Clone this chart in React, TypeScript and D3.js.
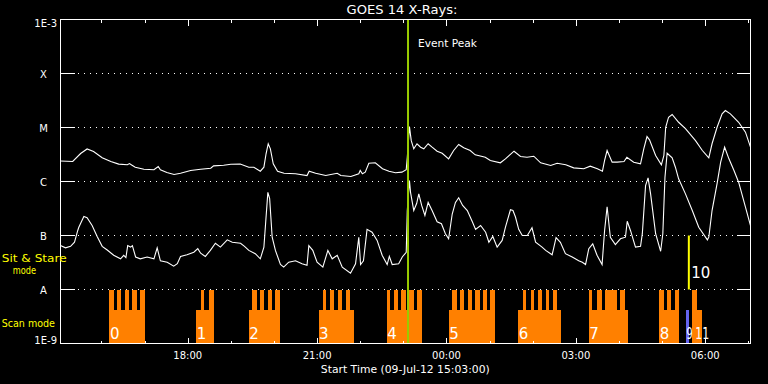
import React from "react";
import * as d3 from "d3";

// ---- data ----
const START = new Date(2012, 6, 9, 15, 3, 0);
const END = new Date(2012, 6, 10, 7, 3, 0);
const yLevels = [1e-9, 1e-8, 1e-7, 1e-6, 1e-5, 1e-4, 1e-3];
const yLabels = ["1E-9", "A", "B", "C", "M", "X", "1E-3"];
const eventPeakMin = 483.5;

// [minutes since 15:03, flux W/m^2]
const longChannel: [number, number][] = [[0,2.4e-6],[17,2.35e-6],[28,3.3e-6],[37,4.0e-6],[46,3.6e-6],[58,2.75e-6],[70,2.35e-6],[81,2.1e-6],[93,2.04e-6],[96,2.15e-6],[99,2.02e-6],[104,1.84e-6],[116,1.69e-6],[130,1.65e-6],[136,1.9e-6],[139,1.65e-6],[148,1.47e-6],[158,1.35e-6],[167,1.42e-6],[181,1.6e-6],[195,1.69e-6],[209,1.76e-6],[213,1.95e-6],[227,2.0e-6],[237,2.09e-6],[250,2.11e-6],[262,1.84e-6],[269,1.84e-6],[278,1.55e-6],[283,1.84e-6],[286,3.26e-6],[289,5.0e-6],[292,4.03e-6],[296,2.13e-6],[302,1.55e-6],[311,1.42e-6],[327,1.39e-6],[343,1.29e-6],[346,1.55e-6],[355,1.42e-6],[369,1.29e-6],[385,1.42e-6],[390,1.29e-6],[404,1.24e-6],[415,1.39e-6],[417,1.6e-6],[420,1.39e-6],[424,1.49e-6],[429,2.18e-6],[438,2.22e-6],[448,1.72e-6],[457,1.55e-6],[466,1.45e-6],[475,1.49e-6],[481,1.65e-6],[482.5,2.82e-6],[485.5,1.04e-5],[488,5.7e-6],[491.5,4.03e-6],[496,5.0e-6],[501,4.32e-6],[505.5,4.03e-6],[511.5,5.0e-6],[517,4.32e-6],[524,3.64e-6],[531,3.34e-6],[540,2.63e-6],[547,3.75e-6],[554,4.84e-6],[561,4.21e-6],[570,3.75e-6],[577,3.12e-6],[591,2.82e-6],[598,2.45e-6],[612,2.22e-6],[619,2.63e-6],[631,3.64e-6],[640,2.91e-6],[649,2.82e-6],[658.5,2.94e-6],[668,2.22e-6],[682,1.98e-6],[691,2.18e-6],[703,2.04e-6],[714,1.79e-6],[728,1.72e-6],[737,1.92e-6],[747,1.72e-6],[754,1.55e-6],[757,2.45e-6],[760.5,3.75e-6],[767.5,2.28e-6],[774.5,2.28e-6],[784,2.35e-6],[788,2.82e-6],[797.5,2.28e-6],[807,2.13e-6],[811.5,4.03e-6],[816,6.8e-6],[819.5,5.9e-6],[828,3.03e-6],[836,2.04e-6],[839.5,3.03e-6],[842,1.01e-5],[846,1.55e-5],[851,1.74e-5],[860,1.25e-5],[869.5,9.5e-6],[883.5,5.7e-6],[893,3.75e-6],[902,2.75e-6],[906.5,5.0e-6],[913.5,1.01e-5],[920.5,1.79e-5],[925,2.06e-5],[932,1.79e-5],[943.5,1.25e-5],[953,8.2e-6],[960,4.32e-6]];

const shortChannel: [number, number][] = [[0,6.5e-8],[7,5.9e-8],[14,6.3e-8],[19.5,7.5e-8],[24,1.24e-7],[25.5,1.42e-7],[32.5,2.25e-7],[37,2.13e-7],[44,1.53e-7],[51,9.6e-8],[58,6.3e-8],[65,5.4e-8],[74,4.3e-8],[83.5,3.7e-8],[88,4.3e-8],[91,3.9e-8],[93.5,6.5e-8],[97.5,6.1e-8],[100,6.5e-8],[104.5,4.0e-8],[111,3.7e-8],[120.5,4.0e-8],[130,3.7e-8],[134.5,5.9e-8],[139,3.4e-8],[148.5,3.2e-8],[157.5,2.7e-8],[162.5,3.0e-8],[167,4.1e-8],[176,4.4e-8],[185.5,4.9e-8],[191,5.7e-8],[195,4.7e-8],[201.5,4.1e-8],[208.5,5.3e-8],[215.5,7.2e-8],[222.5,6.1e-8],[232,8.3e-8],[239,7.5e-8],[250.5,7.2e-8],[256,6.3e-8],[262,5.3e-8],[271,4.6e-8],[278,3.7e-8],[283,6.1e-8],[286,2.2e-7],[288.5,6.3e-7],[291,4.8e-7],[294.5,9.3e-8],[299,5.3e-8],[306,2.9e-8],[310.5,2.6e-8],[317.5,3.2e-8],[327,3.4e-8],[336,3.0e-8],[343,2.8e-8],[345.5,6.5e-8],[351,5.3e-8],[357,3.2e-8],[365,2.6e-8],[372,5.3e-8],[378,3.7e-8],[385,4.3e-8],[392,2.6e-8],[403.5,2.0e-8],[410.5,3.0e-8],[415,9.3e-8],[417.5,2.9e-8],[421.5,3.4e-8],[426.5,1.3e-7],[433.5,1.15e-7],[440.5,8.1e-8],[447.5,4.3e-8],[454.5,2.9e-8],[457.5,4.1e-8],[461.5,2.9e-8],[470.5,3.0e-8],[475.5,4.0e-8],[481,4.9e-8],[482.5,2.9e-7],[485.5,1.04e-6],[487,6.3e-7],[491.5,2.9e-7],[495.5,3.9e-7],[498.5,5.9e-7],[502.5,3.6e-7],[507,2.35e-7],[511.5,4.1e-7],[517,2.9e-7],[524,1.8e-7],[530,1.65e-7],[535.5,1.08e-7],[540,8.7e-8],[545,2.5e-7],[549.5,4.1e-7],[554,5.0e-7],[559.5,3.6e-7],[566,2.9e-7],[573,1.8e-7],[577.5,1.3e-7],[584.5,1.53e-7],[591.5,1.15e-7],[596,7.5e-8],[601.5,9.6e-8],[607.5,6.1e-8],[614.5,8.1e-8],[619,1.42e-7],[626,3.0e-7],[629.5,2.9e-7],[633,2.2e-7],[637.5,1.3e-7],[642.5,1.0e-7],[649.5,1.0e-7],[656,1.39e-7],[661,7.5e-8],[670,6.1e-8],[675,5.3e-8],[684,4.4e-8],[689.5,9.1e-8],[695.5,7.5e-8],[702.5,4.6e-8],[712,4.0e-8],[721,3.4e-8],[726,3.2e-8],[730.5,2.9e-8],[735,5.7e-8],[740.5,7.0e-8],[746.5,4.3e-8],[753.5,2.9e-8],[757,1.24e-7],[760.5,3.4e-7],[765,9.3e-8],[772,6.8e-8],[779,8.7e-8],[786,9.3e-8],[788.5,1.84e-7],[793,1.24e-7],[800,6.1e-8],[807,6.3e-8],[809.5,1.08e-7],[814,8.4e-7],[817.5,1.17e-6],[821,5.9e-7],[828,1.08e-7],[835,5.1e-8],[838,1.08e-7],[841,1.2e-6],[844,3.34e-6],[851,2.75e-6],[855.5,1.84e-6],[860,1.12e-6],[869.5,5.9e-7],[879,2.9e-7],[888,1.42e-7],[900,8.3e-8],[902,9.3e-8],[906.5,2.9e-7],[913.5,9.1e-7],[918.5,2.28e-6],[924,4.32e-6],[930,2.63e-6],[937,1.6e-6],[943.5,9.7e-7],[953,3.34e-7],[960,1.53e-7]];

// scan-mode rasters: [start, end] minutes since 15:03
const scanLabels = ["0", "1", "2", "3", "4", "5", "6", "7", "8", "11"];
const scanRanges: [number, number][] = [[68,117],[189,213],[262,305],[359,408],[454,503],[540,605],[637,697],[735,790],[833,861],[879,892]];
const scanTeeth: [number, number][][] = [
  [[68,74],[79,84],[90,95],[100,106],[110,117]],
  [[195,200],[206,213]],
  [[267,273],[278,283],[288,294],[299,305]],
  [[365,370],[375,381],[386,391],[397,403]],
  [[454,459],[464,470],[474,480],[485,492],[496,503]],
  [[545,551],[556,562],[567,572],[577,583],[588,593],[598,605]],
  [[643,648],[654,659],[664,670],[675,680],[685,691]],
  [[735,740],[746,753],[757,774],[778,785]],
  [[833,839],[844,850],[855,861]],
  [[879,886]],
];
const partialLabels = ["9"];
const partialRanges: [number, number][] = [[870, 874]];
const sitStareLabels = ["10"];
const sitStareTimes = [874.2];
const scanLevel = 4.2e-9;
const toothLevel = 1e-8;
const sitStareTop = 1e-7;

const W = 768, H = 384;
const tm = (m: number) => new Date(START.getTime() + m * 60000);

export default function App() {
  const x = d3.scaleTime().domain([START, END]).range([60.5, 750.5]);
  const y = d3.scaleLog().domain([1e-9, 1e-3]).range([343.5, 19.5]);
  const line = d3.line<[number, number]>().x(d => x(tm(d[0]))).y(d => y(d[1]));
  const hours = d3.timeHour.range(START, END);
  const fmt = d3.timeFormat("%H:%M");
  const font = "DejaVu Sans";
  const orange = "#ff8000";
  const x0 = x(START), x1 = x(END), yTop = y(1e-3), yBot = y(1e-9);

  return (
    <svg width={W} height={H} style={{ position: "fixed", left: 0, top: 0, background: "#000" }} fontFamily={font}>
      <rect x={0} y={0} width={W} height={H} fill="#000" />
      {/* scan blocks */}
      <g shapeRendering="crispEdges" fill={orange}>
        {scanRanges.map((r, i) => (
          <rect key={"b" + i} x={x(tm(r[0]))} y={y(scanLevel)} width={x(tm(r[1])) - x(tm(r[0]))} height={yBot - y(scanLevel)} />
        ))}
        {scanTeeth.map((tt, i) => tt.map((r, j) => (
          <rect key={"t" + i + "_" + j} x={x(tm(r[0]))} y={y(toothLevel)} width={x(tm(r[1])) - x(tm(r[0]))} height={y(scanLevel) - y(toothLevel) + 1} />
        )))}
      </g>
      <g shapeRendering="crispEdges" fill="#6464f0">
        {partialRanges.map((r, i) => (
          <rect key={"p" + i} x={x(tm(r[0]))} y={y(scanLevel)} width={x(tm(r[1])) - x(tm(r[0]))} height={yBot - y(scanLevel)} />
        ))}
      </g>
      {sitStareTimes.map((m, i) => (
        <line key={"s" + i} x1={x(tm(m))} x2={x(tm(m))} y1={y(sitStareTop)} y2={y(toothLevel)} stroke="#ffff00" strokeWidth={2} />
      ))}
      {/* block labels */}
      <g fill="#fff" fontSize={15}>
        {scanRanges.map((r, i) => {
          const last = i === scanRanges.length - 1;
          return last
            ? <text key={"l" + i} x={x(tm(r[0])) + 3} y={339} textLength={14} lengthAdjust="spacingAndGlyphs">{scanLabels[i]}</text>
            : <text key={"l" + i} x={x(tm(r[0])) + 0.5} y={339}>{scanLabels[i]}</text>;
        })}
        {partialRanges.map((r, i) => (
          <text key={"pl" + i} x={x(tm(r[0])) + 0.5} y={339} textLength={6.5} lengthAdjust="spacingAndGlyphs">{partialLabels[i]}</text>
        ))}
        {sitStareTimes.map((m, i) => (
          <text key={"sl" + i} x={x(tm(m)) + 2.5} y={278}>{sitStareLabels[i]}</text>
        ))}
      </g>
      {/* grid */}
      <g stroke="#fff" strokeWidth={1} shapeRendering="crispEdges">
        {yLevels.slice(1, -1).map((v, i) => (
          <g key={"g" + i}>
            <line x1={x0} x2={x0 + 14} y1={y(v)} y2={y(v)} />
            <line x1={x1 - 14} x2={x1} y1={y(v)} y2={y(v)} />
            <line x1={x0 + 17} x2={x1 - 16} y1={y(v)} y2={y(v)} strokeDasharray="1 5" />
          </g>
        ))}
      </g>
      {/* curves */}
      <path d={line(longChannel) || ""} fill="none" stroke="#fff" strokeWidth={1.1} />
      <path d={line(shortChannel) || ""} fill="none" stroke="#fff" strokeWidth={1.1} />
      {/* event peak */}
      <line x1={x(tm(eventPeakMin))} x2={x(tm(eventPeakMin))} y1={yTop} y2={yBot} stroke="#99cc00" strokeWidth={2} />
      <text x={418} y={46.5} fill="#fff" fontSize={10.5} textLength={59} lengthAdjust="spacingAndGlyphs">Event Peak</text>
      {/* frame */}
      <g stroke="#fff" strokeWidth={1} shapeRendering="crispEdges" fill="none">
        <rect x={x0} y={yTop} width={x1 - x0} height={yBot - yTop} />
        {hours.map((h, i) => {
          const major = h.getHours() % 3 === 0;
          const len = major ? 6 : 3;
          const xx = Math.round(x(h)) + 0.5;
          return (
            <g key={"h" + i}>
              <line x1={xx} x2={xx} y1={yTop} y2={yTop + len} />
              <line x1={xx} x2={xx} y1={yBot} y2={yBot - len} />
            </g>
          );
        })}
      </g>
      {/* x labels */}
      <g fill="#fff" fontSize={10} textAnchor="middle">
        {hours.filter(h => h.getHours() % 3 === 0).map((h, i) => (
          <text key={"xl" + i} x={x(h)} y={358.7}>{fmt(h)}</text>
        ))}
        <text x={405.3} y={372.5} textLength={169} lengthAdjust="spacingAndGlyphs">Start Time (09-Jul-12 15:03:00)</text>
      </g>
      {/* y labels */}
      <g fill="#fff" fontSize={10}>
        {yLevels.map((v, i) => {
          const lab = yLabels[i];
          if (lab.length > 1) {
            const yy = i === 0 ? y(v) : y(v) + 7.5;
            return <text key={"yl" + i} x={57} y={yy} textAnchor="end">{lab}</text>;
          }
          return <text key={"yl" + i} x={43.5} y={y(v) + 4} textAnchor="middle">{lab}</text>;
        })}
      </g>
      <g fill="#ffff00" fontSize={11}>
        <text x={1.7} y={262.3} textLength={65} lengthAdjust="spacingAndGlyphs">Sit &amp; Stare</text>
        <text x={12.7} y={274} textLength={23.3} lengthAdjust="spacingAndGlyphs">mode</text>
        <text x={1.7} y={327.3} textLength={53.3} lengthAdjust="spacingAndGlyphs">Scan mode</text>
      </g>
      <text x={402} y={14.3} fill="#fff" fontSize={12} textAnchor="middle" textLength={111} lengthAdjust="spacingAndGlyphs">GOES 14 X-Rays:</text>
    </svg>
  );
}
